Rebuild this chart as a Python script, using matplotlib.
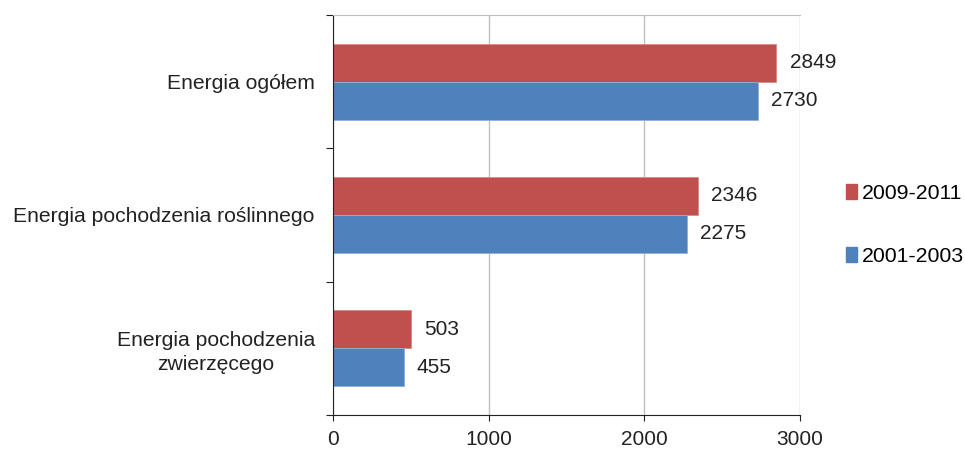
import numpy as np
import matplotlib.pyplot as plt
from matplotlib.patches import Patch

plt.rcParams['font.family'] = ['Liberation Sans', 'DejaVu Sans']

# data
categories = ['Energia ogółem', 'Energia pochodzenia roślinnego', 'Energia pochodzenia\nzwierzęcego']
series_names = ['2009-2011', '2001-2003']
vals_2009 = [2849, 2346, 503]
vals_2001 = [2730, 2275, 455]
colors = ['#C0504D', '#4F81BD']

fig = plt.figure(figsize=(9.65, 4.5), dpi=100)
ax = fig.add_axes([0.345, 0.078, 0.484, 0.889])

y = np.arange(len(categories))[::-1]
h = 0.285
b1 = ax.barh(y + h / 2, vals_2009, height=h, color=colors[0], edgecolor='#D98A88', linewidth=0.6)
b2 = ax.barh(y - h / 2, vals_2001, height=h, color=colors[1], edgecolor='#8FB0DA', linewidth=0.6)

# value labels right of bars
for bars in (b1, b2):
    for r in bars:
        ax.annotate(str(int(r.get_width())), (r.get_width(), r.get_y() + r.get_height() / 2),
                    xytext=(9.5, 0), textcoords='offset points', va='center', ha='left',
                    fontsize=15, color='#222222')

ax.set_xlim(0, 3000)
ax.set_ylim(-0.5, 2.5)
ax.set_xticks([0, 1000, 2000, 3000])
ax.tick_params(axis='x', labelsize=15, length=4, direction='out', colors='#222222', pad=7)
ax.xaxis.grid(True, color='#BFBFBF', linewidth=1)
ax.set_axisbelow(True)

ax.set_yticks([-0.5, 0.5, 1.5, 2.5])
ax.set_yticklabels([])
ax.tick_params(axis='y', which='major', length=5, direction='out', color='#222222')
ax.set_yticks(y, minor=True)
ax.set_yticklabels(categories, minor=True, fontsize=15.2, color='#222222',
                   multialignment='center', linespacing=1.35)
ax.tick_params(axis='y', which='minor', length=0, pad=13)

ax.spines['right'].set_visible(False)
ax.spines['top'].set_color('#BFBFBF')
ax.spines['left'].set_color('#222222')
ax.spines['bottom'].set_color('#222222')

handles = [Patch(color=c) for c in colors]
fig.legend(handles, series_names, loc='center left', bbox_to_anchor=(0.857, 0.5),
           frameon=False, fontsize=15.3, handlelength=0.5, handleheight=0.7,
           handletextpad=0.25, labelspacing=2.1)

fig.savefig('out.png', dpi=100)
